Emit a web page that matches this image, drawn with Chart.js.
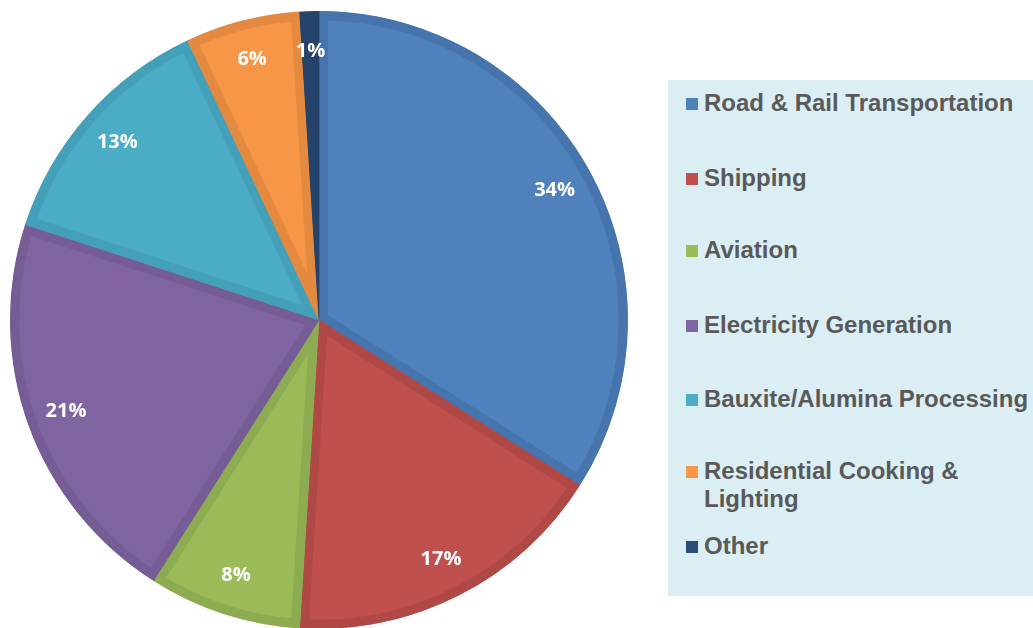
<!DOCTYPE html>
<html>
<head>
<meta charset="utf-8">
<script src="https://cdn.jsdelivr.net/npm/chart.js@4/dist/chart.umd.min.js"></script>
<style>
  html, body { margin: 0; padding: 0; background: #ffffff; width: 1033px; height: 628px; overflow: hidden; }
  #wrap { position: absolute; left: 0; top: 0; width: 660px; height: 640px; }
  #legend {
    position: absolute; left: 668px; top: 80px; width: 380px; height: 516px;
    background: #DBEEF4; font-family: "Liberation Sans", Arial, sans-serif;
    font-weight: bold; font-size: 24px; color: #595959;
  }
  .item { position: absolute; left: 18px; display: flex; align-items: flex-start; line-height: 28px; white-space: nowrap; }
  .sw { width: 12px; height: 12px; margin-top: 9px; margin-right: 6px; flex: none; }
</style>
</head>
<body>
<div id="wrap"><canvas id="c" width="660" height="640"></canvas></div>
<div id="legend"></div>
<script>
const categories = [
  "Road & Rail Transportation",
  "Shipping",
  "Aviation",
  "Electricity Generation",
  "Bauxite/Alumina Processing",
  ["Residential Cooking &", "Lighting"],
  "Other"
];
const shares = [34, 17, 8, 21, 13, 6, 1];
const fillColors = ["#4F81BD", "#C0504D", "#9BBB59", "#8064A2", "#4BACC6", "#F79646", "#2C4D75"];
const edgeColors = ["#4675AE", "#B04946", "#8DAB50", "#755C95", "#44A0B8", "#E38A40", "#25436A"];
const legendTops = [9, 84, 156, 231, 305, 377, 452];

const labelPlugin = {
  id: 'pctLabels',
  afterDatasetsDraw(chart) {
    const ctx = chart.ctx;
    const meta = chart.getDatasetMeta(0);
    ctx.save();
    ctx.fillStyle = '#ffffff';
    ctx.font = 'bold 20px "Open Sans", "Liberation Sans", sans-serif';
    ctx.textAlign = 'center';
    ctx.textBaseline = 'middle';
    meta.data.forEach((arc, i) => {
      const p = arc.getProps(['x', 'y', 'startAngle', 'endAngle', 'outerRadius'], true);
      const mid = (p.startAngle + p.endAngle) / 2;
      const r = p.outerRadius * 0.87;
      ctx.fillText(shares[i] + '%', p.x + Math.cos(mid) * r, p.y + Math.sin(mid) * r);
    });
    ctx.restore();
  }
};

new Chart(document.getElementById('c'), {
  type: 'pie',
  data: {
    labels: categories,
    datasets: [{
      data: shares,
      backgroundColor: fillColors,
      borderColor: edgeColors,
      borderWidth: 9,
      borderAlign: 'inner'
    }]
  },
  options: {
    responsive: false,
    animation: false,
    layout: { padding: { left: 10, right: 32, top: 11, bottom: 11 } },
    plugins: { legend: { display: false }, tooltip: { enabled: false } }
  },
  plugins: [labelPlugin]
});

const lg = document.getElementById('legend');
categories.forEach((lab, i) => {
  const it = document.createElement('div');
  it.className = 'item';
  it.style.top = legendTops[i] + 'px';
  const sw = document.createElement('div');
  sw.className = 'sw';
  sw.style.background = fillColors[i];
  const tx = document.createElement('div');
  tx.innerHTML = (Array.isArray(lab) ? lab : [lab]).map(s => s.replace(/&/g, '&amp;')).join('<br>');
  it.appendChild(sw); it.appendChild(tx);
  lg.appendChild(it);
});
</script>
</body>
</html>
